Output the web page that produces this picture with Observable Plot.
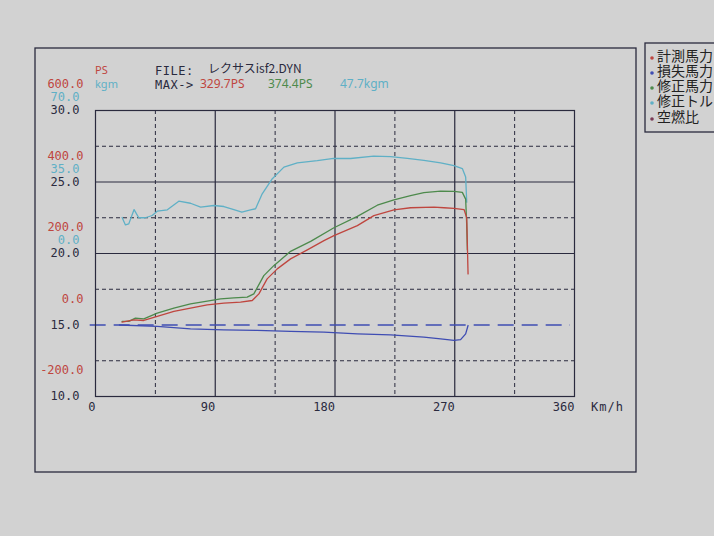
<!DOCTYPE html>
<html>
<head>
<meta charset="utf-8">
<script src="https://cdn.jsdelivr.net/npm/d3@7"></script>
<script src="https://cdn.jsdelivr.net/npm/@observablehq/plot@0.6"></script>
<style>
  html, body { margin: 0; padding: 0; background: #d2d2d2; }
  #chart { width: 714px; height: 536px; overflow: hidden; }
</style>
</head>
<body>
<div id="chart"></div>
<script>
// ---- data ----
// 修正トルク (corrected torque, kgm)
const torqueKmh = [20, 22.5, 25, 29, 32.5, 37.5, 42.6, 46.4, 54, 62.6, 71.4, 79, 89, 96.5, 104, 110, 116.5, 120.3, 125.3, 132.9, 141.6, 151.7, 166.7, 179, 191.7, 209, 221.8, 234.4, 246.8, 259.4, 269.4, 275.7, 278.2, 279];
const torqueKgm = [17.6, 14.0, 14.5, 21.5, 17.5, 17.5, 18.6, 20.7, 21.4, 25.6, 24.6, 22.7, 23.5, 23.0, 21.5, 20.2, 21.4, 21.9, 29.2, 36.6, 42.3, 44.4, 45.5, 46.6, 46.5, 47.7, 47.4, 46.6, 45.6, 44.4, 43.0, 41.6, 37.4, 25.1];
// 修正馬力 (corrected power, PS)
const corrKmh = [20, 25, 30, 36.3, 46.4, 58.9, 71.4, 84, 94, 104, 114, 119, 126.5, 134, 146.6, 161.7, 179.2, 196.8, 211.8, 224.3, 236.8, 246.8, 259.4, 269.4, 275.7, 278.2, 279, 279.5];
const corrPs  = [10, 10, 19, 17, 33, 47, 59, 66.6, 73, 76, 78, 87, 138, 166, 206, 234, 272, 304, 335, 350, 362, 370, 374.4, 374, 371, 352, 280, 210];
// 計測馬力 (measured power, PS)
const measKmh = [20, 28.8, 36.3, 46.4, 58.9, 71.4, 84, 96.5, 109, 117.8, 122.8, 129, 136.6, 146.6, 159.2, 171.7, 179.2, 196.8, 209.2, 224.3, 236.8, 254.4, 261.9, 269.4, 277, 279, 280];
const measPs  = [8, 14.5, 12.6, 24, 38, 47, 56.5, 61, 64, 68.5, 87, 129, 157, 185, 210, 236, 250, 278, 306, 322, 328, 329.7, 328, 326, 323, 300, 143];
// 損失馬力 (loss power, PS)
const lossKmh = [18, 46.4, 71.4, 96.5, 121.5, 146.6, 171.7, 196.8, 221.8, 246.8, 259.4, 269.4, 274.4, 278.2, 280];
const lossPs  = [0, -4, -10.6, -13.4, -15, -18, -20, -24.6, -27.6, -34, -38.6, -43, -41, -25, -1.4];
// tick labels
const xTicks = [0, 90, 180, 270, 360];
const afrTicks = [10, 15, 20, 25, 30];
const psTickLabels = ["-200.0", "0.0", "200.0", "400.0", "600.0"];
const kgmTickLabels = ["0.0", "35.0", "70.0"];
const legendLabels = ["計測馬力", "損失馬力", "修正馬力", "修正トルク", "空燃比"];

// colours
const RED = "#bf463f", GREEN = "#4d8a4c", CYAN = "#5fb0c6", BLUE = "#3f4db3", DARK = "#2a2a3e", MAROON = "#7a3a55";

// scale conversions onto the common (AFR) y axis: 10..30
const psToY = p => 15 + p / 40;
const kgmToY = k => 20 + k / 7;

const torque = torqueKmh.map((x, i) => ({x, y: kgmToY(torqueKgm[i])}));
const corr = corrKmh.map((x, i) => ({x, y: psToY(corrPs[i])}));
const meas = measKmh.map((x, i) => ({x, y: psToY(measPs[i])}));
const loss = lossKmh.map((x, i) => ({x, y: psToY(lossPs[i])}));

const font = "'DejaVu Sans Mono', monospace";

const plot = Plot.plot({
  width: 714,
  height: 536,
  marginLeft: 95,
  marginRight: 140,
  marginTop: 110,
  marginBottom: 140,
  x: {domain: [0, 360]},
  y: {domain: [10, 30]},
  style: {background: "#d2d2d2", fontFamily: font, fontSize: "12px", overflow: "hidden"},
  marks: [
    Plot.ruleX([45, 135, 225, 315], {stroke: DARK, strokeDasharray: "4,3", strokeWidth: 1}),
    Plot.ruleX([90, 180, 270], {stroke: DARK, strokeWidth: 1.2}),
    Plot.ruleY([12.5, 17.5, 22.5, 27.5], {stroke: DARK, strokeDasharray: "4,3", strokeWidth: 1}),
    Plot.ruleY([20, 25], {stroke: DARK, strokeWidth: 1.2}),
    Plot.ruleY([15], {x1: -4, x2: 357, stroke: BLUE, strokeDasharray: "16,8", strokeWidth: 1.3}),
    Plot.frame({stroke: DARK, strokeWidth: 1.2}),
    Plot.line(torque, {x: "x", y: "y", stroke: CYAN, strokeWidth: 1.3}),
    Plot.line(loss, {x: "x", y: "y", stroke: BLUE, strokeWidth: 1.3}),
    Plot.line(corr, {x: "x", y: "y", stroke: GREEN, strokeWidth: 1.3}),
    Plot.line(meas, {x: "x", y: "y", stroke: RED, strokeWidth: 1.3}),
    Plot.axisY({ticks: afrTicks, tickFormat: d => d.toFixed(1), tickSize: 0, tickPadding: 16, fill: DARK, label: null}),
    Plot.axisY({ticks: afrTicks, tickFormat: d => psTickLabels[afrTicks.indexOf(d)], tickSize: 0, tickPadding: 12, dy: -26, fill: RED, label: null}),
    Plot.axisY({ticks: [20, 25, 30], tickFormat: d => kgmTickLabels[[20, 25, 30].indexOf(d)], tickSize: 0, tickPadding: 16, dy: -13, fill: CYAN, label: null}),
    Plot.axisX({ticks: xTicks, tickFormat: d => String(d), tickSize: 0, tickPadding: 6, textAnchor: "end", dx: 0, fill: DARK, label: null})
  ]
});

const svg = d3.select(plot);
// outer page frame
svg.append("rect").attr("x", 35).attr("y", 48).attr("width", 601).attr("height", 424)
  .attr("fill", "none").attr("stroke", DARK).attr("stroke-width", 1.3);
// legend box (runs off the right edge, as in the photo)
svg.append("rect").attr("x", 645).attr("y", 43).attr("width", 120).attr("height", 89)
  .attr("fill", "none").attr("stroke", DARK).attr("stroke-width", 1.3);
const legendColors = [RED, BLUE, GREEN, CYAN, MAROON];
const legendY = [57, 72, 87, 102, 118];

function txt(x, y, s, color, opts = {}) {
  const t = svg.append("text").attr("x", x).attr("y", y).attr("dominant-baseline", "middle")
    .attr("text-anchor", opts.anchor || "start")
    .attr("font-family", opts.family || font).attr("font-size", opts.size || 12)
    .attr("fill", color).text(s);
  if (opts.ls) t.attr("letter-spacing", opts.ls);
  return t;
}
legendLabels.forEach((t, i) => {
  svg.append("circle").attr("cx", 652).attr("cy", legendY[i] + 1).attr("r", 1.8).attr("fill", legendColors[i]);
  txt(657, legendY[i], t, "#222", {family: "'Noto Sans CJK JP', sans-serif", size: 14});
});
txt(95, 71, "PS", RED, {family: "'Noto Sans', sans-serif", size: 11});
txt(95, 85, "kgm", CYAN, {family: "'Noto Sans', sans-serif", size: 11});
txt(155, 71, "FILE:", DARK, {ls: 0.5});
txt(208, 70, "レクサスisf2.DYN", DARK, {family: "'Noto Sans CJK JP', sans-serif", size: 12});
txt(155, 85, "MAX->", DARK, {ls: 0.5});
txt(200, 85, "329.7PS", RED, {family: "'Noto Sans', sans-serif"});
txt(268, 85, "374.4PS", GREEN, {family: "'Noto Sans', sans-serif"});
txt(340, 85, "47.7kgm", CYAN, {family: "'Noto Sans', sans-serif"});
txt(591, 407, "Km/h", DARK, {ls: 1});

document.getElementById("chart").appendChild(plot);
</script>
</body>
</html>
